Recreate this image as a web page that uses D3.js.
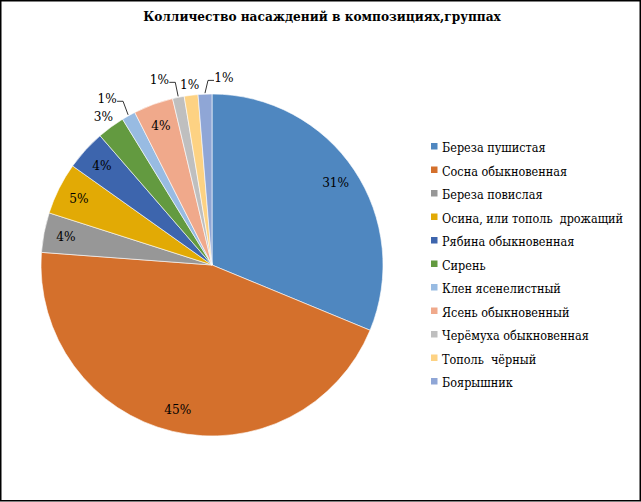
<!DOCTYPE html>
<html>
<head>
<meta charset="utf-8">
<script src="https://cdn.jsdelivr.net/npm/d3@7"></script>
<style>
  body { margin: 0; background: #fff; }
  svg text { font-stretch: condensed; }
</style>
</head>
<body>
<div id="chart"></div>
<script>
// species and their share of plantings (percent)
const species = [
    "Береза пушистая",
    "Сосна обыкновенная",
    "Береза повислая",
    "Осина, или тополь  дрожащий",
    "Рябина обыкновенная",
    "Сирень",
    "Клен ясенелистный",
    "Ясень обыкновенный",
    "Черёмуха обыкновенная",
    "Тополь  чёрный",
    "Боярышник"
];
const shares = [31.2, 44.9, 3.75, 4.9, 3.8, 2.6, 1.3, 3.75, 1.1, 1.3, 1.3];
const colors = [
    "#4f87c0", "#d4702c", "#979797", "#e2aa05", "#3d65ad", "#639a40",
    "#98bbe2", "#f0a98b", "#bfbfbf", "#fdd283", "#8fa6d6"
];
const title = "Колличество насаждений в композициях,группах";

let width = 641,
    height = 502,
    cx = 212,
    cy = 265,
    radius = 171;

const svg = d3
    .select("#chart")
    .append("svg")
    .attr("width", width)
    .attr("height", height)
    .attr("font-family", "'DejaVu Serif Condensed', 'DejaVu Serif', serif");

// outer frame
svg.append("rect")
    .attr("x", 0.75)
    .attr("y", 0.75)
    .attr("width", 639.5)
    .attr("height", 500)
    .attr("fill", "#fff")
    .attr("stroke", "#000")
    .attr("stroke-width", 1.5);

svg.append("text")
    .attr("x", 322)
    .attr("y", 21)
    .attr("text-anchor", "middle")
    .attr("font-weight", "bold")
    .attr("font-size", "13.5px")
    .text(title);

const data = species.map((name, i) => ({ name: name, value: shares[i], color: colors[i] }));

const pie = d3.pie().sort(null).value((d) => d.value);
const arcs = pie(data);
const arc = d3.arc().innerRadius(0).outerRadius(radius);

const g = svg.append("g").attr("transform", `translate(${cx},${cy})`);

g.selectAll("path")
    .data(arcs)
    .join("path")
    .attr("d", arc)
    .attr("fill", (d) => d.data.color)
    .attr("stroke", "#fff")
    .attr("stroke-width", 0.6);

const total = d3.sum(shares);
const fmt = (v) => Math.round((v / total) * 100) + "%";
const mid = (d) => (d.startAngle + d.endAngle) / 2;
const polar = (r, a) => [r * Math.sin(a), -r * Math.cos(a)];

// small slices get their labels outside; some with leader lines
// index -> [radius, angle shift in degrees, leader side]
const outside = {
    5: [184, 0, null],
    6: [197, -3, "right"],
    8: [193, -4.5, "right"],
    9: [182, 0, null],
    10: [188, 6, "left"]
};

const labels = g.append("g").attr("font-size", "13.5px");

arcs.forEach((d, i) => {
    let a = mid(d);
    let pos, o = outside[i];
    if (o) pos = polar(o[0], a + (o[1] * Math.PI) / 180);
    else pos = polar(radius * 0.87, a);

    labels.append("text")
        .attr("x", pos[0])
        .attr("y", pos[1])
        .attr("text-anchor", "middle")
        .attr("dy", "0.35em")
        .text(fmt(d.value));

    if (o && o[2]) {
        let end = polar(radius + 1, a);
        let half = 10;
        let sx = o[2] == "right" ? pos[0] + half : pos[0] - half;
        let ex = o[2] == "right" ? sx + 6 : sx - 6;
        let y = pos[1] + 3;
        g.append("path")
            .attr("d", `M${sx},${y}H${ex}L${end[0]},${end[1]}`)
            .attr("fill", "none")
            .attr("stroke", "#000")
            .attr("stroke-width", 0.8);
    }
});

// legend
const legend = svg.append("g").attr("transform", "translate(431,143)");
const row = 23.5;

legend.selectAll("rect")
    .data(data)
    .join("rect")
    .attr("x", 0)
    .attr("y", (d, i) => i * row)
    .attr("width", 6.5)
    .attr("height", 6.5)
    .attr("fill", (d) => d.color);

legend.selectAll("text")
    .data(data)
    .join("text")
    .attr("x", 11)
    .attr("y", (d, i) => i * row + 9)
    .attr("font-size", "12.5px")
    .style("white-space", "pre")
    .text((d) => d.name);
</script>
</body>
</html>
